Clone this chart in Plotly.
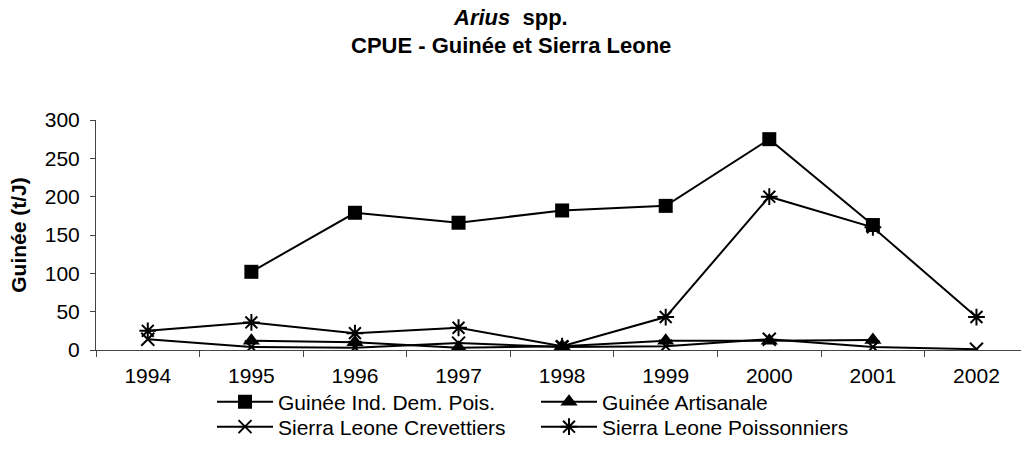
import plotly.graph_objects as go

# CPUE of Arius spp., Guinea and Sierra Leone fleets
years = ["1994", "1995", "1996", "1997", "1998", "1999", "2000", "2001", "2002"]
guinee_ind_dem_pois = [None, 102, 179, 166, 182, 188, 275, 163, None]
guinee_artisanale = [None, 12, 10, 3, 5, 12, 12, 13, None]
sl_crevettiers = [14, 4, 3, 9, 4, 5, 14, 4, 1]
sl_poissonniers = [25, 36, 22, 29, 5, 43, 200, 160, 43]

# (label, values, marker symbol, marker size, marker outline width, legend row)
series = [
    ("Guinée Ind. Dem. Pois.", guinee_ind_dem_pois, "square", 14, 0, "legend"),
    ("Guinée Artisanale", guinee_artisanale, "triangle-up", 15, 0, "legend"),
    ("Sierra Leone Crevettiers", sl_crevettiers, "x-thin-open", 13, 2, "legend2"),
    ("Sierra Leone Poissonniers", sl_poissonniers, "asterisk-open", 14, 2, "legend2"),
]

FONT = "Liberation Sans, Arial, sans-serif"
W, H = 1021, 455
LEFT, TOP = 96, 120
PLOT_W = W - LEFT
PLOT_H = H - TOP          # paper height (bottom margin is zero)
AXIS_BOTTOM = 350         # pixel row of the x axis


def px(pixel_col):
    """Paper x coordinate of a pixel column."""
    return (pixel_col - LEFT) / PLOT_W


def py(pixel_row):
    """Paper y coordinate of a pixel row measured from the top."""
    return (H - pixel_row) / PLOT_H


fig = go.Figure()
for name, vals, sym, size, mlw, leg in series:
    fig.add_trace(go.Scatter(
        x=years, y=vals, name=name, mode="lines+markers",
        line=dict(color="black", width=2),
        marker=dict(symbol=sym, size=size, color="black",
                    line=dict(color="black", width=mlw)),
        connectgaps=False, legend=leg,
    ))

fig.add_annotation(text="<b><i>Arius</i>  spp.</b>", xref="paper", yref="paper",
                   x=px(W / 2), y=py(17), xanchor="center", yanchor="middle",
                   showarrow=False, font=dict(family=FONT, size=22, color="black"))
fig.add_annotation(text="<b>CPUE - Guinée et Sierra Leone</b>", xref="paper", yref="paper",
                   x=px(W / 2), y=py(45), xanchor="center", yanchor="middle",
                   showarrow=False, font=dict(family=FONT, size=22, color="black"))

legend_common = dict(
    orientation="h", x=px(212), xref="paper", xanchor="left",
    yref="paper", yanchor="middle",
    entrywidth=253, entrywidthmode="pixels",
    itemwidth=56, tracegroupgap=0,
    font=dict(family=FONT, size=21, color="black"),
    bgcolor="rgba(0,0,0,0)",
)

fig.update_layout(
    width=W, height=H,
    margin=dict(l=LEFT, r=0, t=TOP, b=0, autoexpand=False),
    paper_bgcolor="white", plot_bgcolor="white",
    font=dict(family=FONT, size=21, color="black"),
    showlegend=True,
    legend=dict(legend_common, y=py(402)),
    legend2=dict(legend_common, y=py(427)),
)

fig.update_xaxes(
    type="category", range=[-0.5, 8.43],
    showline=True, linecolor="#444", linewidth=1,
    ticks="outside", tickson="boundaries", ticklen=6, tickcolor="#444",
    showgrid=False, zeroline=False, automargin=False,
    tickfont=dict(family=FONT, size=21, color="black"),
    ticklabelstandoff=7,
)
fig.update_yaxes(
    domain=[(H - AXIS_BOTTOM) / PLOT_H, 1],
    range=[0, 300], dtick=50,
    showline=True, linecolor="#444", linewidth=1,
    ticks="outside", ticklen=5, tickcolor="#444",
    showgrid=False, zeroline=False, automargin=False,
    tickfont=dict(family=FONT, size=21, color="black"),
    ticklabelstandoff=6,
    title=dict(text="<b>Guinée (t/J)</b>", standoff=12,
               font=dict(family=FONT, size=21, color="black")),
)

fig.write_html("out.html")
